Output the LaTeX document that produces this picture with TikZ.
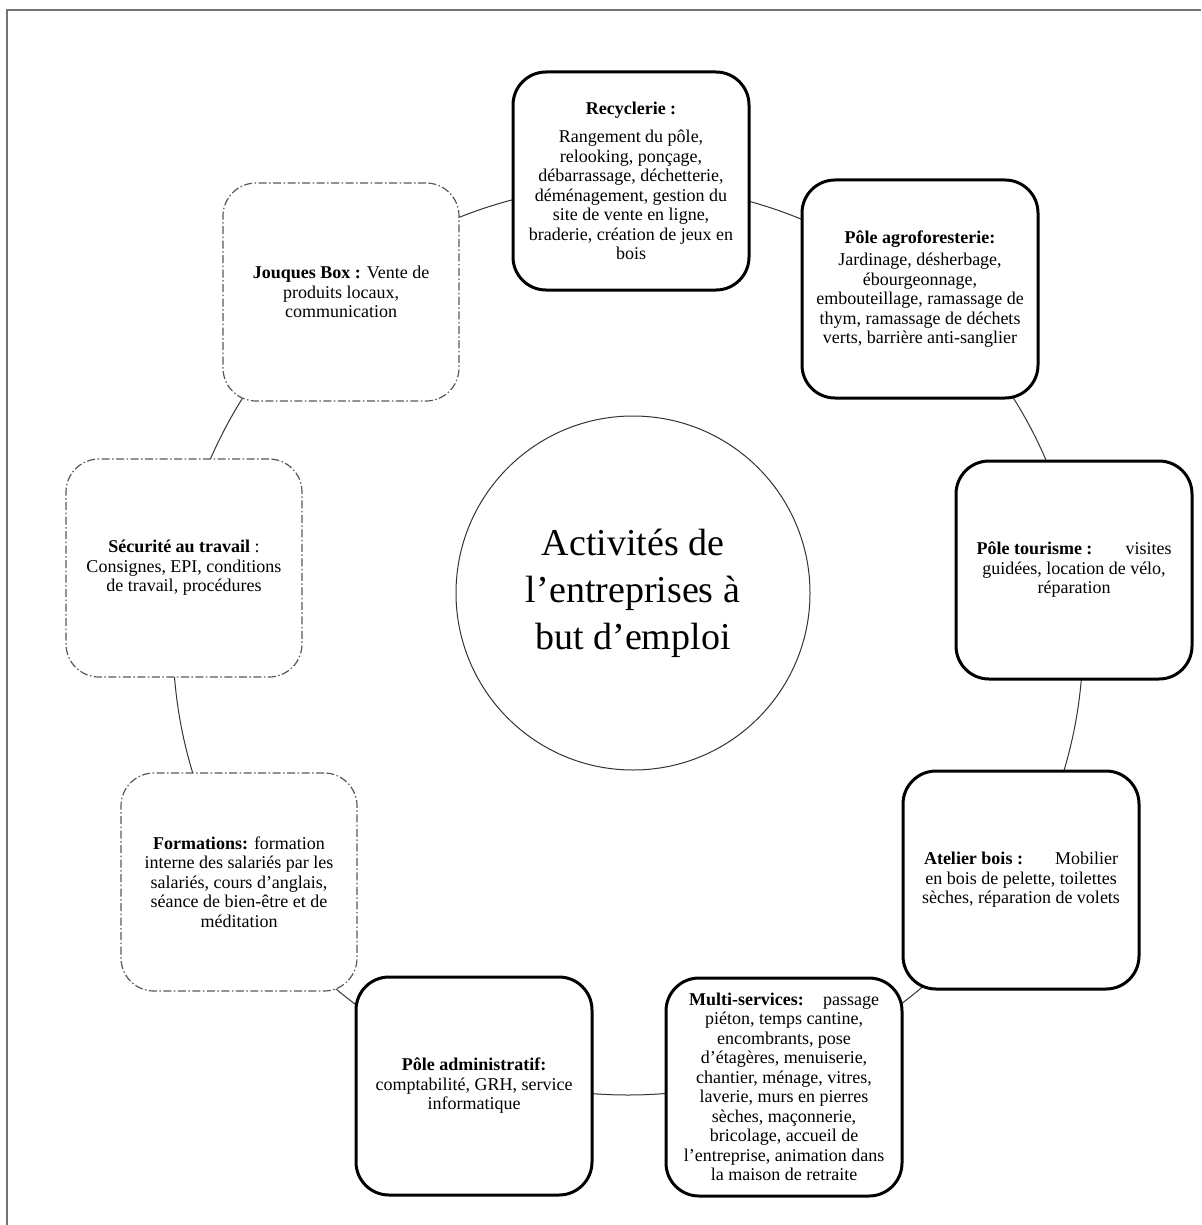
\documentclass[tikz,border=0pt]{standalone}
\usepackage{fontspec}
\setmainfont{Liberation Serif}
\begin{document}
\begin{tikzpicture}[x=1pt,y=-1pt,
  boxbase/.style={rounded corners=33pt, fill=white, minimum width=236pt, minimum height=218pt,
    align=center, inner sep=4pt, font=\fontsize{18}{19.5}\selectfont},
  solidbox/.style={boxbase, draw=black, line width=3pt},
  dashbox/.style={boxbase, draw=black!65, line width=1.2pt,
    dash pattern=on 8pt off 2.5pt on 1.5pt off 2.5pt},
  ring/.style={draw=black!80, line width=1pt},
  frameline/.style={draw=black!55, line width=1.6pt}]
\useasboundingbox (0,0) rectangle (1201,1225);
\coordinate (fa) at (7,1225);
\coordinate (fb) at (7,10);
\coordinate (fc) at (1201,10);
\draw[frameline] (fa) -- (fb) -- (fc);
% ring behind the boxes
\coordinate (ringc) at (628,640);
\draw[ring] (ringc) circle[radius=455pt];
% central circle
\node[circle, draw=black!80, line width=1pt, minimum size=354pt, fill=white, align=center,
      font=\fontsize{38}{47}\selectfont] (center) at (633,593)
  {Activités de\\l’entreprises à\\but d’emploi};
% boxes
\node[solidbox] (rec) at (631,181)
  {\textbf{Recyclerie :}\\[9pt] Rangement du pôle,\\ relooking, ponçage,\\ débarrassage, déchetterie,\\ déménagement, gestion du\\ site de vente en ligne,\\ braderie, création de jeux en\\ bois};
\node[solidbox] (agro) at (920,289)
  {\textbf{Pôle agroforesterie:}\\[3pt] Jardinage, désherbage,\\ ébourgeonnage,\\ embouteillage, ramassage de\\ thym, ramassage de déchets\\ verts, barrière anti-sanglier};
\node[solidbox] (tour) at (1074,570)
  {\makebox[195pt]{\textbf{Pôle tourisme :}\hfill visites}\\ guidées, location de vélo,\\ réparation};
\node[solidbox] (atel) at (1021,880)
  {\makebox[194pt]{\textbf{Atelier bois :}\hfill Mobilier}\\ en bois de pelette, toilettes\\ sèches, réparation de volets};
\node[solidbox] (multi) at (784,1087)
  {\makebox[190pt]{\textbf{Multi-services:}\hfill passage}\\ piéton, temps cantine,\\ encombrants, pose\\ d’étagères, menuiserie,\\ chantier, ménage, vitres,\\ laverie, murs en pierres\\ sèches, maçonnerie,\\ bricolage, accueil de\\ l’entreprise, animation dans\\ la maison de retraite};
\node[solidbox] (admin) at (474,1086)
  {\textbf{Pôle administratif:}\\ comptabilité, GRH, service\\ informatique};
\node[dashbox] (form) at (239,882)
  {\textbf{Formations:} formation\\ interne des salariés par les\\ salariés, cours d’anglais,\\ séance de bien-être et de\\ méditation};
\node[dashbox] (secu) at (184,568)
  {\textbf{Sécurité au travail} :\\ Consignes, EPI, conditions\\ de travail, procédures};
\node[dashbox] (jouq) at (341,292)
  {\textbf{Jouques Box :} Vente de\\ produits locaux,\\ communication};
\end{tikzpicture}
\end{document}
